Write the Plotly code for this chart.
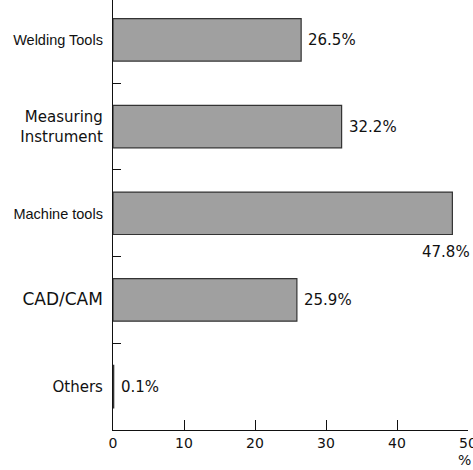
import plotly.graph_objects as go

categories = ["Welding Tools", "Measuring Instrument", "Machine tools", "CAD/CAM", "Others"]
values = [26.5, 32.2, 47.8, 25.9, 0.1]
value_labels = ["26.5%", "32.2%", "47.8%", "25.9%", "0.1%"]
tick_labels = [
    "<span style='font-family:Liberation Sans;font-size:14.5px'>Welding Tools</span>",
    "Measuring<br>Instrument",
    "<span style='font-family:Liberation Sans;font-size:14.5px'>Machine tools</span>",
    "<span style='font-size:17px'>CAD/CAM</span>",
    "Others",
]
x_ticks = [0, 10, 20, 30, 40, 50]

fig = go.Figure()
fig.add_trace(go.Bar(
    y=categories, x=values, orientation="h", width=0.49,
    marker=dict(color="#a0a0a0", line=dict(color="#333333", width=1.2)),
    hoverinfo="skip",
))

for i, (c, v, t) in enumerate(zip(categories, values, value_labels)):
    if v > 45:
        fig.add_annotation(x=v, y=c, text=t, showarrow=False, xanchor="right",
                           yanchor="middle", xshift=20, yshift=-39,
                           font=dict(family="DejaVu Sans", size=15, color="#111"))
    else:
        fig.add_annotation(x=v, y=c, text=t, showarrow=False, xanchor="left",
                           yanchor="middle", xshift=5,
                           font=dict(family="DejaVu Sans", size=15, color="#111"))

fig.add_annotation(x=1, y=0, xref="paper", yref="paper", text="%", showarrow=False,
                   xanchor="right", yanchor="middle", xshift=5, yshift=-30,
                   font=dict(family="DejaVu Sans", size=14, color="#111"))

fig.update_layout(
    width=473, height=470,
    margin=dict(l=113, r=5, t=0, b=40),
    plot_bgcolor="white", paper_bgcolor="white",
    showlegend=False,
    font=dict(family="DejaVu Sans", size=15, color="#111"),
    xaxis=dict(range=[0, 50], tickvals=x_ticks, ticks="inside", ticklen=10,
               tickcolor="#111", showline=True, linecolor="#111", linewidth=1.2,
               showgrid=False, zeroline=False, tickfont=dict(size=14),
               ticklabeloverflow="allow", automargin=False,
               fixedrange=True),
    yaxis=dict(categoryorder="array", categoryarray=categories,
               tickvals=categories, ticktext=tick_labels,
               range=[4.5, -0.46], tickson="boundaries", ticks="inside",
               ticklen=8, tickcolor="#111", showline=True, linecolor="#111",
               linewidth=1.2, showgrid=False, zeroline=False,
               ticklabelstandoff=6, automargin=False, fixedrange=True),
)

fig.write_html("out.html", config={"displayModeBar": False},
               post_script="document.body.style.margin='0';document.body.style.overflow='hidden';")
